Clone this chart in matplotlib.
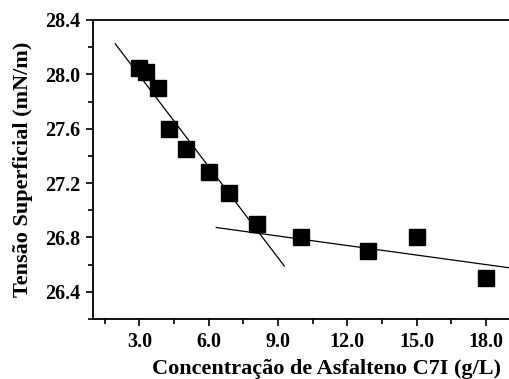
import matplotlib
matplotlib.use("Agg")
import matplotlib.pyplot as plt
from matplotlib.ticker import MultipleLocator, FormatStrFormatter

conc = [3.0, 3.3, 3.8, 4.3, 5.0, 6.0, 6.9, 8.1, 10.0, 12.9, 15.0, 18.0]
tensao = [28.05, 28.02, 27.90, 27.60, 27.45, 27.28, 27.13, 26.90, 26.80, 26.70, 26.80, 26.50]

fit1_x = [1.96, 9.27]
fit1_y = [28.225, 26.59]
fit2_x = [6.33, 21.0]
fit2_y = [26.873, 26.53]

plt.rcParams['font.family'] = ['Liberation Serif', 'DejaVu Serif']

fig = plt.figure(figsize=(5.10, 3.79), dpi=100)
ax = fig.add_axes([0.1824, 0.1583, 0.916, 0.789])

ax.plot(fit1_x, fit1_y, color='black', lw=0.9)
ax.plot(fit2_x, fit2_y, color='black', lw=0.9)
ax.plot(conc, tensao, 's', color='black', markersize=11.5, linestyle='none')

ax.set_xlim(1.0, 21.2)
ax.set_ylim(26.2, 28.4)
ax.xaxis.set_minor_locator(MultipleLocator(1.5))
ax.yaxis.set_minor_locator(MultipleLocator(0.2))
ax.set_xticks([3.0, 6.0, 9.0, 12.0, 15.0, 18.0])
ax.set_yticks([26.4, 26.8, 27.2, 27.6, 28.0, 28.4])
ax.xaxis.set_major_formatter(FormatStrFormatter('%.1f'))
ax.yaxis.set_major_formatter(FormatStrFormatter('%.1f'))

for s in ax.spines.values():
    s.set_linewidth(1.3)
ax.spines['right'].set_visible(False)

ax.tick_params(which='major', direction='out', length=5, width=1.2, labelsize=14.5, pad=4)
ax.tick_params(which='minor', direction='out', length=3.5, width=1.2)
ax.tick_params(top=False, right=False, which='both')
for lab in ax.get_xticklabels() + ax.get_yticklabels():
    lab.set_fontweight('bold')

ax.set_xlabel('Concentração de Asfalteno C7I (g/L)', fontsize=16, fontweight='bold', labelpad=5.5)
ax.set_ylabel('Tensão Superficial (mN/m)', fontsize=16, fontweight='bold', labelpad=9)

fig.savefig('out.png', dpi=100)
